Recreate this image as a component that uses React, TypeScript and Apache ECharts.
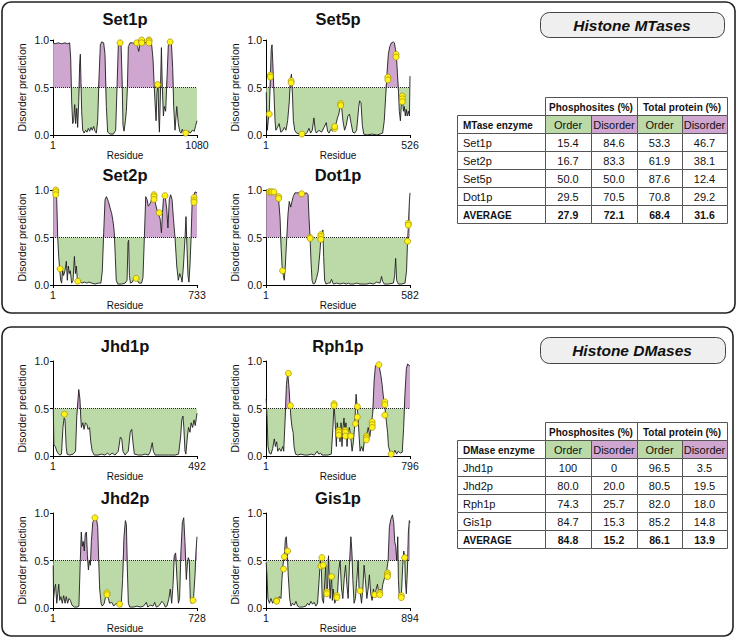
import React, { useEffect, useRef } from 'react';
import * as echarts from 'echarts';

// ---------- Disorder prediction curves: [residue, disorder score] ----------
const set1pCurve = [[1,0.97],[15,0.96],[40,0.97],[65,0.96],[90,0.97],[110,0.96],[125,0.97],[133,0.80],[140,0.35],[148,0.12],[155,0.15],[163,0.32],[170,0.12],[178,0.28],[185,0.08],[193,0.35],[200,0.75],[205,0.85],[210,0.55],[215,0.25],[223,0.05],[233,0.02],[245,0.05],[255,0.03],[265,0.07],[275,0.04],[285,0.08],[295,0.05],[305,0.09],[315,0.04],[325,0.02],[335,0.15],[345,0.6],[355,0.95],[365,0.98],[380,0.97],[390,0.85],[400,0.3],[410,0.03],[428,0.01],[453,0.01],[470,0.05],[480,0.5],[490,0.95],[500,0.98],[510,0.97],[518,0.6],[525,0.1],[533,0.04],[543,0.15],[550,0.25],[558,0.5],[565,0.93],[578,0.97],[595,0.97],[615,0.96],[635,0.93],[643,0.88],[653,0.96],[670,0.98],[690,0.97],[710,0.99],[728,0.97],[740,0.95],[750,0.8],[758,0.55],[765,0.35],[773,0.15],[780,0.45],[788,0.53],[793,0.2],[798,0.03],[805,0.4],[813,0.92],[820,0.5],[828,0.2],[835,0.3],[845,0.25],[855,0.6],[865,0.95],[878,0.98],[888,0.97],[898,0.7],[905,0.3],[915,0.05],[928,0.3],[940,0.12],[950,0.04],[960,0.02],[970,0.06],[980,0.02],[990,0.05],[1000,0.02],[1015,0.04],[1030,0.02],[1045,0.05],[1060,0.04],[1070,0.1],[1080,0.15]];
const set1pSites = [[503,0.97],[628,0.97],[665,0.99],[665,1.0],[665,0.97],[720,1.0],[720,0.99],[720,0.97],[785,0.53],[878,0.98],[995,0.02]];

const set5pCurve = [[1,0.45],[3,0.15],[5,0.05],[8,0.15],[12,0.25],[16,0.6],[19,0.9],[22,0.95],[25,0.75],[29,0.45],[33,0.15],[36,0.05],[42,0.08],[48,0.12],[54,0.03],[60,0.04],[67,0.08],[73,0.05],[79,0.15],[85,0.35],[89,0.58],[93,0.64],[97,0.4],[100,0.15],[105,0.05],[112,0.02],[121,0.01],[133,0.0],[145,0.01],[151,0.03],[157,0.07],[163,0.02],[169,0.05],[175,0.18],[180,0.05],[184,0.02],[193,0.05],[203,0.03],[212,0.08],[220,0.13],[225,0.04],[230,0.02],[237,0.06],[244,0.04],[251,0.08],[256,0.12],[261,0.18],[266,0.22],[272,0.32],[276,0.3],[281,0.15],[287,0.05],[293,0.1],[299,0.2],[305,0.22],[311,0.12],[317,0.03],[324,0.02],[331,0.05],[339,0.3],[342,0.36],[347,0.34],[352,0.1],[357,0.01],[369,0.0],[387,0.01],[405,0.0],[417,0.01],[426,0.02],[432,0.15],[437,0.4],[442,0.65],[447,0.85],[452,0.93],[458,0.97],[465,0.98],[469,0.97],[473,0.9],[476,0.85],[480,0.65],[484,0.45],[487,0.25],[491,0.15],[494,0.3],[498,0.38],[502,0.25],[505,0.3],[509,0.2],[512,0.27],[516,0.2],[520,0.25],[524,0.2],[526,0.62]];
const set5pSites = [[12,0.22],[16,0.63],[16,0.61],[92,0.57],[92,0.55],[131,0.01],[251,0.07],[251,0.09],[273,0.33],[273,0.31],[445,0.61],[445,0.58],[475,0.85],[475,0.82],[498,0.41],[498,0.38],[498,0.35]];

const set2pCurve = [[1,1.0],[7,0.99],[12,0.98],[15,0.97],[19,0.9],[24,0.5],[29,0.3],[34,0.17],[39,0.05],[44,0.02],[49,0.15],[54,0.1],[61,0.15],[68,0.25],[73,0.05],[78,0.2],[83,0.12],[88,0.15],[95,0.02],[102,0.05],[109,0.3],[114,0.12],[119,0.2],[124,0.05],[129,0.03],[137,0.04],[146,0.02],[160,0.03],[171,0.02],[183,0.03],[197,0.02],[214,0.01],[231,0.02],[244,0.02],[251,0.15],[258,0.55],[265,0.9],[272,0.93],[282,0.88],[292,0.8],[299,0.75],[307,0.65],[312,0.55],[317,0.3],[322,0.05],[329,0.01],[350,0.01],[367,0.02],[377,0.05],[382,0.45],[385,0.47],[389,0.1],[394,0.02],[404,0.03],[414,0.08],[421,0.08],[428,0.05],[438,0.02],[451,0.02],[458,0.08],[465,0.5],[472,0.93],[479,0.9],[485,0.83],[492,0.85],[499,0.88],[506,0.95],[513,0.92],[519,0.88],[528,0.8],[536,0.75],[545,0.7],[552,0.55],[557,0.75],[563,0.93],[570,0.95],[579,0.8],[585,0.6],[592,0.9],[599,0.95],[606,0.9],[613,0.7],[621,0.5],[630,0.2],[638,0.05],[645,0.12],[652,0.08],[657,0.03],[664,0.2],[672,0.5],[677,0.72],[682,0.4],[687,0.1],[692,0.03],[697,0.2],[703,0.5],[708,0.85],[714,0.93],[723,0.98],[733,0.97]];
const set2pSites = [[14,1.0],[14,0.98],[14,0.95],[36,0.17],[126,0.04],[423,0.07],[514,0.95],[514,0.93],[514,0.9],[541,0.76],[570,0.94],[718,0.92],[718,0.89],[718,0.87]];

const dot1pCurve = [[1,0.97],[9,0.98],[23,0.98],[36,0.97],[46,0.95],[51,0.9],[57,0.7],[61,0.4],[65,0.2],[70,0.1],[74,0.05],[78,0.2],[84,0.5],[89,0.75],[94,0.88],[100,0.82],[105,0.88],[110,0.93],[117,0.97],[124,0.97],[137,0.97],[151,0.96],[164,0.97],[170,0.95],[174,0.7],[178,0.5],[182,0.25],[186,0.05],[191,0.01],[198,0.02],[205,0.08],[211,0.15],[218,0.35],[222,0.5],[226,0.55],[230,0.58],[233,0.3],[237,0.05],[242,0.01],[252,0.02],[259,0.02],[265,0.06],[272,0.01],[286,0.02],[299,0.01],[313,0.02],[326,0.01],[333,0.02],[339,0.01],[353,0.01],[366,0.02],[380,0.01],[393,0.01],[407,0.01],[420,0.02],[434,0.01],[447,0.03],[461,0.02],[467,0.09],[471,0.04],[478,0.01],[494,0.01],[515,0.02],[520,0.1],[524,0.28],[528,0.05],[535,0.01],[548,0.01],[562,0.02],[568,0.15],[572,0.45],[575,0.6],[579,0.85],[582,0.97]];
const dot1pSites = [[13,0.98],[19,0.98],[24,0.98],[32,0.98],[51,0.93],[51,0.91],[67,0.15],[144,0.96],[178,0.5],[178,0.49],[222,0.53],[222,0.51],[222,0.48],[575,0.65],[575,0.63],[572,0.46]];

const jhd1pCurve = [[1,0.5],[3,0.12],[8,0.1],[13,0.05],[17,0.03],[23,0.01],[29,0.02],[34,0.3],[38,0.4],[41,0.38],[45,0.1],[48,0.02],[57,0.01],[69,0.02],[77,0.05],[81,0.4],[85,0.58],[88,0.7],[92,0.6],[95,0.4],[97,0.3],[102,0.35],[106,0.28],[111,0.35],[116,0.33],[120,0.28],[125,0.3],[129,0.15],[134,0.05],[141,0.01],[154,0.01],[166,0.02],[177,0.01],[186,0.03],[194,0.01],[202,0.03],[212,0.01],[223,0.05],[230,0.2],[235,0.18],[239,0.05],[246,0.01],[257,0.05],[264,0.25],[269,0.28],[273,0.15],[278,0.02],[292,0.01],[303,0.01],[315,0.02],[326,0.01],[333,0.05],[339,0.14],[343,0.05],[349,0.01],[372,0.01],[395,0.01],[418,0.01],[429,0.02],[436,0.2],[440,0.38],[444,0.42],[447,0.3],[451,0.05],[454,0.02],[459,0.2],[463,0.3],[468,0.25],[472,0.35],[477,0.3],[482,0.38],[486,0.32],[492,0.45]];
const jhd1pSites = [[39,0.44]];

const rph1pCurve = [[1,0.6],[6,0.4],[11,0.1],[19,0.03],[28,0.02],[37,0.08],[46,0.18],[52,0.1],[59,0.15],[65,0.05],[74,0.08],[83,0.05],[93,0.1],[98,0.05],[106,0.4],[113,0.75],[120,0.88],[128,0.7],[133,0.53],[139,0.38],[144,0.3],[150,0.25],[155,0.1],[163,0.02],[176,0.01],[194,0.02],[213,0.01],[231,0.01],[250,0.02],[268,0.01],[283,0.05],[291,0.02],[302,0.03],[309,0.01],[342,0.01],[361,0.02],[370,0.3],[376,0.55],[381,0.4],[389,0.1],[394,0.35],[398,0.25],[404,0.3],[409,0.15],[415,0.35],[420,0.1],[426,0.3],[431,0.4],[437,0.25],[442,0.35],[448,0.1],[453,0.25],[461,0.3],[468,0.2],[476,0.05],[483,0.15],[491,0.34],[498,0.65],[505,0.5],[509,0.4],[515,0.2],[520,0.05],[528,0.1],[537,0.05],[546,0.2],[555,0.2],[565,0.3],[574,0.2],[583,0.35],[590,0.45],[598,0.8],[605,0.95],[616,0.97],[627,0.93],[635,0.85],[642,0.75],[650,0.6],[655,0.55],[661,0.45],[666,0.35],[672,0.25],[677,0.1],[685,0.05],[690,0.01],[698,0.05],[705,0.03],[713,0.06],[722,0.02],[731,0.05],[742,0.03],[753,0.04],[761,0.3],[768,0.65],[776,0.92],[783,0.97],[792,0.95],[796,0.95]];
const rph1pSites = [[124,0.87],[135,0.53],[376,0.55],[376,0.53],[402,0.27],[402,0.25],[402,0.22],[439,0.27],[439,0.25],[439,0.21],[468,0.21],[494,0.34],[505,0.52],[505,0.41],[555,0.21],[555,0.19],[555,0.17],[587,0.36],[587,0.33],[587,0.3],[624,0.96],[657,0.57],[657,0.54],[657,0.43],[692,0.02]];

const jhd2pCurve = [[1,0.45],[3,0.1],[8,0.2],[13,0.25],[19,0.05],[24,0.15],[29,0.25],[34,0.08],[40,0.12],[47,0.05],[54,0.13],[61,0.05],[67,0.12],[74,0.05],[81,0.1],[88,0.08],[96,0.03],[108,0.01],[121,0.01],[131,0.02],[138,0.5],[143,0.8],[148,0.65],[153,0.7],[158,0.6],[163,0.78],[169,0.8],[174,0.55],[179,0.4],[184,0.5],[189,0.45],[194,0.7],[201,0.9],[209,0.94],[219,0.95],[226,0.85],[231,0.5],[236,0.2],[243,0.05],[249,0.02],[259,0.05],[266,0.12],[273,0.15],[280,0.1],[286,0.05],[297,0.06],[307,0.02],[320,0.05],[329,0.02],[337,0.04],[344,0.01],[352,0.3],[359,0.75],[366,0.92],[371,0.88],[376,0.4],[381,0.05],[388,0.01],[408,0.01],[425,0.02],[441,0.01],[458,0.02],[472,0.06],[479,0.01],[492,0.03],[506,0.02],[514,0.06],[522,0.01],[534,0.02],[551,0.07],[559,0.05],[568,0.01],[576,0.02],[586,0.1],[593,0.2],[600,0.05],[607,0.25],[613,0.55],[620,0.58],[627,0.3],[634,0.05],[640,0.1],[647,0.6],[654,0.9],[661,0.95],[667,0.7],[674,0.3],[679,0.45],[684,0.53],[689,0.5],[694,0.1],[699,0.05],[704,0.08],[711,0.12],[718,0.35],[723,0.6],[728,0.75]];
const jhd2pSites = [[212,0.95],[273,0.16],[273,0.14],[337,0.04],[708,0.08]];

const gis1pCurve = [[1,0.48],[6,0.35],[12,0.1],[21,0.05],[31,0.1],[41,0.05],[52,0.08],[62,0.1],[72,0.05],[83,0.12],[93,0.1],[99,0.3],[105,0.45],[114,0.55],[120,0.72],[126,0.75],[132,0.6],[138,0.35],[147,0.1],[155,0.02],[165,0.05],[176,0.03],[186,0.07],[196,0.02],[207,0.01],[227,0.01],[248,0.02],[258,0.05],[268,0.03],[279,0.07],[289,0.04],[299,0.06],[310,0.02],[320,0.05],[330,0.3],[337,0.5],[343,0.45],[349,0.1],[357,0.05],[366,0.3],[371,0.45],[374,0.2],[378,0.16],[382,0.2],[388,0.55],[393,0.3],[398,0.1],[403,0.25],[407,0.33],[412,0.08],[417,0.2],[427,0.05],[436,0.1],[444,0.15],[452,0.4],[460,0.5],[469,0.2],[477,0.1],[485,0.3],[494,0.45],[502,0.25],[510,0.1],[518,0.45],[527,0.75],[533,0.6],[539,0.3],[547,0.05],[555,0.1],[564,0.3],[572,0.5],[578,0.2],[584,0.18],[593,0.05],[601,0.2],[609,0.45],[617,0.3],[626,0.1],[634,0.2],[642,0.35],[650,0.15],[659,0.08],[667,0.2],[675,0.12],[684,0.2],[692,0.25],[700,0.15],[708,0.2],[717,0.15],[725,0.25],[733,0.3],[741,0.35],[750,0.4],[758,0.5],[766,0.85],[774,0.93],[785,0.98],[793,0.9],[799,0.7],[805,0.65],[812,0.5],[818,0.75],[822,0.3],[828,0.1],[834,0.15],[840,0.12],[849,0.45],[855,0.6],[861,0.55],[865,0.3],[871,0.15],[878,0.4],[884,0.8],[890,0.92],[894,0.9]];
const gis1pSites = [[66,0.08],[66,0.07],[109,0.41],[114,0.54],[134,0.6],[347,0.53],[341,0.44],[355,0.45],[378,0.17],[378,0.15],[407,0.33],[440,0.13],[440,0.11],[584,0.18],[675,0.14],[706,0.16],[706,0.14],[754,0.37],[754,0.35],[754,0.33],[840,0.13],[840,0.11],[861,0.53]];

const plotNames = ['Set1p', 'Set5p', 'Set2p', 'Dot1p', 'Jhd1p', 'Rph1p', 'Jhd2p', 'Gis1p'];
const plotLengths = [1080, 526, 733, 582, 492, 796, 728, 894];
const plotCurves = [set1pCurve, set5pCurve, set2pCurve, dot1pCurve, jhd1pCurve, rph1pCurve, jhd2pCurve, gis1pCurve];
const plotSites = [set1pSites, set5pSites, set2pSites, dot1pSites, jhd1pSites, rph1pSites, jhd2pSites, gis1pSites];
const yTicks = [0, 0.5, 1];
const threshold = 0.5;

// ---------- Tables ----------
const tableHeaders = ['Phosphosites (%)', 'Total protein (%)'];
const subHeaders = ['Order', 'Disorder', 'Order', 'Disorder'];

const mtaseNames = ['Set1p', 'Set2p', 'Set5p', 'Dot1p'];
const mtasePhosOrder = ['15.4', '16.7', '50.0', '29.5'];
const mtasePhosDisorder = ['84.6', '83.3', '50.0', '70.5'];
const mtaseTotalOrder = ['53.3', '61.9', '87.6', '70.8'];
const mtaseTotalDisorder = ['46.7', '38.1', '12.4', '29.2'];
const mtaseAverage = ['27.9', '72.1', '68.4', '31.6'];

const dmaseNames = ['Jhd1p', 'Jhd2p', 'Rph1p', 'Gis1p'];
const dmasePhosOrder = ['100', '80.0', '74.3', '84.7'];
const dmasePhosDisorder = ['0', '20.0', '25.7', '15.3'];
const dmaseTotalOrder = ['96.5', '80.5', '82.0', '85.2'];
const dmaseTotalDisorder = ['3.5', '19.5', '18.0', '14.8'];
const dmaseAverage = ['84.8', '15.2', '86.1', '13.9'];

const GREEN = '#bcdaa8';
const PURPLE = '#cfa6cf';
const FONT = '"Liberation Sans", Arial, Helvetica, sans-serif';

const colLeft = [53, 266];
const rowTop = [40, 190, 361, 513];
const titleY = [19, 175, 346, 498];
const PW = 144;
const PH = 95;

function txt(x: number, y: number, text: string, font: string, align = 'center', z = 11) {
  return {
    type: 'text', x, y, z, silent: true,
    style: { text, font, fill: '#111', align, verticalAlign: 'middle', textAlign: align, textVerticalAlign: 'middle' },
  };
}

function buildTable(top: number, enzymeLabel: string, names: string[], pO: string[], pD: string[], tO: string[], tD: string[], avg: string[]) {
  const c = [457, 545, 591, 637, 682, 727];
  const H = 18;
  const els: any[] = [];
  const cell = (x0: number, x1: number, y: number, fill: string | null, text: string, font: string, align = 'center') => {
    els.push({
      type: 'rect', z: 10, silent: true,
      shape: { x: x0 + 0.5, y: y + 0.5, width: x1 - x0, height: H },
      style: { fill: fill || '#ffffff', stroke: '#555', lineWidth: 1 },
    });
    els.push(txt(align === 'left' ? x0 + 6 : (x0 + x1) / 2, y + H / 2 + 1, text, font, align));
  };
  const bold = `bold 10px ${FONT}`;
  const reg = `11px ${FONT}`;
  const boldVal = `bold 10.5px ${FONT}`;
  cell(c[1], c[3], top, null, tableHeaders[0], bold);
  cell(c[3], c[5], top, null, tableHeaders[1], bold);
  const y2 = top + H;
  cell(c[0], c[1], y2, null, enzymeLabel, bold, 'left');
  subHeaders.forEach((s, j) => cell(c[j + 1], c[j + 2], y2, j % 2 === 0 ? GREEN : PURPLE, s, reg));
  names.forEach((n, i) => {
    const y = top + H * (i + 2);
    cell(c[0], c[1], y, null, n, reg, 'left');
    [pO[i], pD[i], tO[i], tD[i]].forEach((v, j) => cell(c[j + 1], c[j + 2], y, null, v, reg));
  });
  const ya = top + H * (names.length + 2);
  cell(c[0], c[1], ya, null, 'AVERAGE', bold, 'left');
  avg.forEach((v, j) => cell(c[j + 1], c[j + 2], ya, null, v, boldVal));
  return els;
}

export default function App() {
  const ref = useRef<HTMLDivElement>(null);
  useEffect(() => {
    if (!ref.current) return;
    const chart = echarts.init(ref.current, null, { renderer: 'svg' });

    const grids: any[] = [];
    const xAxes: any[] = [];
    const yAxes: any[] = [];
    const series: any[] = [];
    const titles: any[] = [];

    plotNames.forEach((name, i) => {
      const col = i % 2;
      const row = Math.floor(i / 2);
      const n = plotLengths[i];
      grids.push({ left: colLeft[col], top: rowTop[row], width: PW, height: PH, containLabel: false });
      xAxes.push({
        gridIndex: i, type: 'value', min: 0, max: n, interval: n,
        name: 'Residue', nameLocation: 'middle', nameGap: 8,
        nameTextStyle: { fontSize: 10, color: '#111', fontFamily: FONT },
        axisLine: { show: true, onZero: false, lineStyle: { color: '#000', width: 1 } },
        axisTick: { show: true, length: 3, lineStyle: { color: '#000', width: 1 } },
        axisLabel: { fontSize: 10.5, color: '#111', fontFamily: FONT, margin: 4, showMinLabel: true, showMaxLabel: true,
          formatter: (v: number) => (v === 0 ? '1' : String(v)) },
        splitLine: { show: false },
      });
      yAxes.push({
        gridIndex: i, type: 'value', min: yTicks[0], max: yTicks[2], interval: yTicks[1],
        name: 'Disorder prediction', nameLocation: 'middle', nameGap: 26,
        nameTextStyle: { fontSize: 10.5, color: '#111', fontFamily: FONT },
        axisLine: { show: true, onZero: false, lineStyle: { color: '#000', width: 1 } },
        axisTick: { show: true, length: 3, lineStyle: { color: '#000', width: 1 } },
        axisLabel: { fontSize: 10.5, color: '#111', fontFamily: FONT, margin: 4, formatter: (v: number) => v.toFixed(1) },
        splitLine: { show: false },
      });
      const curve = plotCurves[i];
      const upper = curve.map(([x, v]) => [x, Math.max(v, threshold)]);
      const lower = curve.map(([x, v]) => [x, Math.min(v, threshold)]);
      series.push({
        type: 'line', xAxisIndex: i, yAxisIndex: i, data: upper, symbol: 'none', silent: true,
        lineStyle: { width: 0, opacity: 0 }, areaStyle: { origin: threshold, color: PURPLE, opacity: 1 }, z: 1,
      });
      series.push({
        type: 'line', xAxisIndex: i, yAxisIndex: i, data: lower, symbol: 'none', silent: true,
        lineStyle: { width: 0, opacity: 0 }, areaStyle: { origin: threshold, color: GREEN, opacity: 1 }, z: 1,
      });
      series.push({
        type: 'line', xAxisIndex: i, yAxisIndex: i, data: curve, symbol: 'none', silent: true,
        lineStyle: { width: 0.9, color: '#1e1e1e' }, z: 3,
        markLine: {
          silent: true, symbol: 'none', label: { show: false },
          lineStyle: { type: 'dotted', color: '#222', width: 1 },
          data: [{ yAxis: threshold }],
        },
      });
      series.push({
        type: 'scatter', xAxisIndex: i, yAxisIndex: i, data: plotSites[i], symbolSize: 6, clip: false, silent: true,
        itemStyle: { color: '#fff21a', borderColor: '#a08e00', borderWidth: 0.7, opacity: 1 }, z: 5,
      });
      titles.push(txt(colLeft[col] + PW / 2, titleY[row], name, `bold 16.5px ${FONT}`));
    });

    const graphic: any[] = [
      { type: 'rect', silent: true, z: 0, shape: { x: 2, y: 2, width: 733, height: 311, r: 9 }, style: { fill: 'none', stroke: '#222', lineWidth: 1.6 } },
      { type: 'rect', silent: true, z: 0, shape: { x: 2, y: 327, width: 731, height: 309, r: 9 }, style: { fill: 'none', stroke: '#222', lineWidth: 1.6 } },
      { type: 'rect', silent: true, z: 10, shape: { x: 540.5, y: 12.5, width: 184, height: 25, r: 9 }, style: { fill: '#efefef', stroke: '#444', lineWidth: 1 } },
      txt(632, 25.5, 'Histone MTases', `italic bold 15.5px ${FONT}`),
      { type: 'rect', silent: true, z: 10, shape: { x: 540.5, y: 337.5, width: 185, height: 26, r: 9 }, style: { fill: '#efefef', stroke: '#444', lineWidth: 1 } },
      txt(632, 350.5, 'Histone DMases', `italic bold 15.5px ${FONT}`),
      ...titles,
      ...buildTable(97, 'MTase enzyme', mtaseNames, mtasePhosOrder, mtasePhosDisorder, mtaseTotalOrder, mtaseTotalDisorder, mtaseAverage),
      ...buildTable(422, 'DMase enzyme', dmaseNames, dmasePhosOrder, dmasePhosDisorder, dmaseTotalOrder, dmaseTotalDisorder, dmaseAverage),
    ];

    chart.setOption({
      animation: false,
      backgroundColor: '#ffffff',
      textStyle: { fontFamily: FONT },
      grid: grids,
      xAxis: xAxes,
      yAxis: yAxes,
      series,
      graphic,
    });
    return () => chart.dispose();
  }, []);
  return <div ref={ref} style={{ position: 'absolute', left: 0, top: 0, width: 738, height: 639, background: '#fff' }} />;
}
